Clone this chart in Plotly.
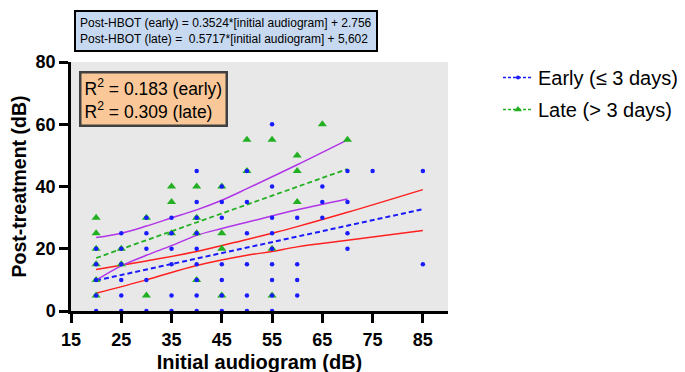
import plotly.graph_objects as go

# ---------------- data ----------------
early_x = [20, 20, 20, 20, 20,
           25, 25, 25, 25, 25, 25,
           30, 30, 30, 30, 30,
           35, 35, 35, 35, 35, 35,
           40, 40, 40, 40, 40, 40, 40, 40, 40,
           45, 45, 45, 45, 45, 45, 45,
           50, 50, 50, 50, 50, 50,
           55, 55, 55, 55, 55, 55, 55, 55, 55,
           60, 60, 60, 60,
           65, 65, 65,
           70, 70, 70, 70,
           75,
           85, 85]
early_y = [20, 15, 10, 5, 0,
           25, 20, 15, 10, 5, 0,
           30, 25, 20, 10, 0,
           30, 25, 20, 15, 5, 0,
           45, 35, 30, 25, 20, 15, 10, 5, 0,
           40, 35, 30, 15, 10, 5, 0,
           45, 35, 25, 15, 5, 0,
           60, 40, 30, 25, 20, 15, 10, 5, 0,
           30, 15, 10, 5,
           40, 35, 30,
           45, 35, 25, 20,
           45,
           45, 15]

late_x = [20, 20, 20, 20, 20, 20,
          25, 25,
          30, 30,
          35, 35, 35,
          40, 40, 40, 40,
          45, 45, 45, 45,
          50, 50,
          55, 55, 55,
          60, 60, 60,
          65,
          70]
late_y = [30, 25, 20, 15, 10, 5,
          20, 15,
          30, 5,
          40, 35, 25,
          40, 30, 25, 10,
          40, 25, 20, 5,
          55, 45,
          55, 20, 5,
          50, 45, 35,
          60,
          55]

# regression equations printed on the chart
early_slope, early_intercept = 0.3524, 2.756
late_slope, late_intercept = 0.5717, 5.602
early_fit_x = [20, 85]
late_fit_x = [20, 70]

# 95% confidence bands
early_ci_x = [20, 30, 40, 50, 55, 60, 70, 85]
early_ci_lo = [5.7, 10.0, 14.6, 17.9, 19.1, 20.6, 22.7, 25.9]
early_ci_hi = [13.3, 16.1, 19.1, 23.0, 25.0, 27.1, 31.7, 39.0]

late_ci_x = [20, 25, 30, 35, 40, 45, 50, 60, 70]
late_ci_lo = [9.9, 14.5, 17.9, 21.0, 24.3, 26.5, 28.5, 32.5, 36.0]
late_ci_hi = [23.6, 25.0, 27.3, 29.9, 32.5, 35.6, 39.3, 47.0, 55.0]

x_ticks = [15, 25, 35, 45, 55, 65, 75, 85]
y_ticks = [0, 20, 40, 60, 80]

FONT = "Arial, 'Liberation Sans', sans-serif"
BLUE = "#1a1aff"
GREEN = "#22b022"
RED = "#ff2020"
PURPLE = "#b035e8"

fig = go.Figure()

# confidence bands
for xs, lo, hi, col in [(early_ci_x, early_ci_lo, early_ci_hi, RED),
                        (late_ci_x, late_ci_lo, late_ci_hi, PURPLE)]:
    for ys in (lo, hi):
        fig.add_trace(go.Scatter(x=xs, y=ys, mode="lines", line=dict(color=col, width=1.5, shape="spline"),
                                 showlegend=False, hoverinfo="skip"))

# regression lines
fig.add_trace(go.Scatter(x=late_fit_x, y=[late_slope * v + late_intercept for v in late_fit_x],
                         mode="lines", line=dict(color=GREEN, width=1.8, dash="5px,3px"),
                         showlegend=False))
fig.add_trace(go.Scatter(x=early_fit_x, y=[early_slope * v + early_intercept for v in early_fit_x],
                         mode="lines", line=dict(color=BLUE, width=2, dash="5px,3px"),
                         showlegend=False))

# scatter points
fig.add_trace(go.Scatter(x=late_x, y=late_y, mode="markers",
                         marker=dict(symbol="triangle-up", size=8, color=GREEN),
                         cliponaxis=False, showlegend=False))
fig.add_trace(go.Scatter(x=early_x, y=early_y, mode="markers",
                         marker=dict(symbol="circle", size=4.5, color=BLUE),
                         cliponaxis=False, showlegend=False))

# legend entries
fig.add_trace(go.Scatter(x=[None], y=[None], mode="lines+markers", name="Early (≤ 3 days)",
                         legendgroup="a",
                         line=dict(color=BLUE, width=1.5, dash="3px,2px"),
                         marker=dict(symbol="circle", size=4, color=BLUE)))
fig.add_trace(go.Scatter(x=[None], y=[None], mode="lines+markers", name="Late (> 3 days)",
                         legendgroup="b",
                         line=dict(color=GREEN, width=1.5, dash="3px,2px"),
                         marker=dict(symbol="triangle-up", size=7, color=GREEN)))

L, R, T, B = 63, 245, 54, 68.5
W, H = 685, 372
pw, ph = W - L - R, H - T - B


def px_x(p):
    return (p - L) / pw


def px_y(p):
    return (H - B - p) / ph


fig.add_annotation(
    xref="paper", yref="paper", x=px_x(66), y=px_y(1.5), xanchor="left", yanchor="top",
    text="Post-HBOT (early) = 0.3524*[initial audiogram] + 2.756<br>"
         "Post-HBOT (late) =  0.5717*[initial audiogram] + 5,602",
    align="left", showarrow=False,
    font=dict(family=FONT, size=12, color="black"),
    bgcolor="#c6d9f1", bordercolor="black", borderwidth=2, borderpad=4,
)
fig.add_annotation(
    xref="paper", yref="paper", x=px_x(71), y=px_y(63), xanchor="left", yanchor="top",
    text="R<sup>2</sup> = 0.183 (early)<br>R<sup>2</sup> = 0.309 (late)",
    align="left", showarrow=False,
    font=dict(family=FONT, size=17.5, color="black"),
    bgcolor="#fac898", bordercolor="#404040", borderwidth=2.5, borderpad=3,
)

axis_common = dict(
    showline=True, linecolor="black", linewidth=2.5, mirror=False,
    ticks="outside", ticklen=9, tickwidth=2.5, tickcolor="black",
    showgrid=False, zeroline=False,
    tickfont=dict(family=FONT, size=18, color="black", weight="bold"),
)

fig.update_layout(
    width=W, height=H,
    margin=dict(l=L, r=R, t=T, b=B, autoexpand=False),
    paper_bgcolor="white", plot_bgcolor="#e8e8e8",
    font=dict(family=FONT, color="black"),
    xaxis=dict(range=[15, 90], tickvals=x_ticks, ticktext=[str(v) for v in x_ticks],
               title=dict(text="Initial audiogram (dB)", standoff=6,
                          font=dict(family=FONT, size=20, color="black", weight="bold")),
               ticklabelstandoff=2, **axis_common),
    yaxis=dict(range=[0, 80], tickvals=y_ticks, ticktext=[str(v) for v in y_ticks],
               title=dict(text="Post-treatment (dB)", standoff=4,
                          font=dict(family=FONT, size=19.5, color="black", weight="bold")),
               **axis_common),
    legend=dict(x=px_x(490), y=px_y(50), xanchor="left", yanchor="top",
                font=dict(family=FONT, size=20, color="black"),
                bgcolor="rgba(0,0,0,0)", tracegroupgap=3, itemwidth=30),
    showlegend=True,
)

fig.write_html("out.html")
